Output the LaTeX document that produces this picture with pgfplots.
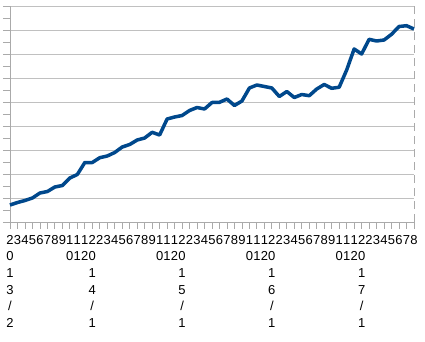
\documentclass[border=0pt]{standalone}
\usepackage{fontspec}
\setmainfont{Liberation Sans}
\usepackage{pgfplots}
\pgfplotsset{compat=1.18}
\definecolor{serblue}{RGB}{0,72,140}
\definecolor{gridgray}{RGB}{192,192,192}
\definecolor{axgray}{RGB}{170,170,170}
\begin{document}
\begin{tikzpicture}
\begin{axis}[
  at={(0,0)}, anchor=south west,
  scale only axis, width=404bp, height=216bp,
  xmin=0, xmax=54, ymin=0, ymax=216,
  axis x line*=bottom, axis y line*=left,
  axis line style={axgray, line width=0.8bp},
  xtick={0,...,54},
  xticklabels={{2\\0\\1\\3\\/\\2},3,4,5,6,7,8,9,{1\\0},{1\\1},{1\\2},
    {2\\0\\1\\4\\/\\1},2,3,4,5,6,7,8,9,{1\\0},{1\\1},{1\\2},
    {2\\0\\1\\5\\/\\1},2,3,4,5,6,7,8,9,{1\\0},{1\\1},{1\\2},
    {2\\0\\1\\6\\/\\1},2,3,4,5,6,7,8,9,{1\\0},{1\\1},{1\\2},
    {2\\0\\1\\7\\/\\1},2,3,4,5,6,7,8},
  xticklabel style={align=center, font=\fontsize{13bp}{16.6bp}\selectfont, inner sep=0pt, anchor=north, yshift=-6bp},
  ytick={0,24,...,216},
  minor ytick={12,36,...,204},
  yticklabels={},
  tick align=outside,
  major tick length=7bp, minor tick length=7bp,
  every tick/.style={axgray, line width=0.8bp},
  ymajorgrids,
  major grid style={gridgray, line width=0.8bp},
  clip=false,
]
\addplot[serblue, line width=3.5bp, line join=round, mark=none] coordinates {
(0,17) (1,19.5) (2,21.5) (3,24) (4,29) (5,30.5) (6,35) (7,36.5) (8,44) (9,47.5)
(10,59.5) (11,59.5) (12,64.3) (13,66) (14,69.5) (15,75) (16,77.5) (17,82) (18,84) (19,89.7)
(20,87) (21,103) (22,105) (23,106.5) (24,111.5) (25,114.5) (26,113) (27,119.5) (28,119.7) (29,123)
(30,116.5) (31,121) (32,134) (33,137) (34,135.5) (35,134) (36,125.5) (37,130.5) (38,124.5) (39,127.5)
(40,126.3) (41,133) (42,137.5) (43,133.7) (44,134.8) (45,152) (46,173) (47,168) (48,182.7) (49,181)
(50,182) (51,187.7) (52,195.5) (53,196.3) (54,193)
};
\draw[axgray, line width=0.8bp, dash pattern=on 8bp off 5bp] (rel axis cs:1,0) -- (rel axis cs:1,1);
\end{axis}
\pgfresetboundingbox
\useasboundingbox (-10bp,-120bp) rectangle (415bp,222bp);
\end{tikzpicture}
\end{document}
